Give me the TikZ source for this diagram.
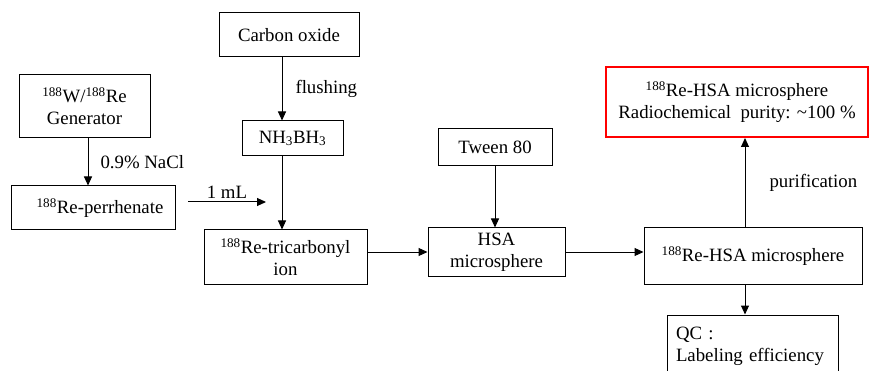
\documentclass[tikz,border=0pt]{standalone}
\usepackage{fontspec}
\setmainfont{Liberation Serif}
\newfontfamily\tnrfont{Liberation Serif}
\usetikzlibrary{positioning,arrows.meta}

\begin{document}
\begin{tikzpicture}[x=1pt,y=-1pt,
        box/.style={draw, line width=1pt, inner sep=2pt, align=center, font=\tnrfont\fontsize{18.8}{22}\selectfont},
        lbl/.style={inner sep=0pt, font=\tnrfont\fontsize{18.8}{22}\selectfont},
        flow/.style={-{Triangle[length=9pt,width=8pt]}, line width=1pt}]

        \clip (0,0) rectangle (869,371);

        \node[box, minimum width=140pt, minimum height=44pt] (carbon) at (289,35) {Carbon oxide};
        \node[box, minimum width=101pt, minimum height=35pt] (nh3) at (292.5,138.5) {NH\textsubscript{3}BH\textsubscript{3}};
        \node[box, minimum width=131pt, minimum height=63pt] (gen) at (84.5,106.5) {\textsuperscript{188}W/\textsuperscript{188}Re\\Generator};
        \node[box, minimum width=164pt, minimum height=44pt] (perr) at (93,208) {\hspace*{14pt}\textsuperscript{188}Re-perrhenate};
        \node[box, minimum width=163pt, minimum height=54pt] (tri) at (285.5,257) {\textsuperscript{188}Re-tricarbonyl\\ion};
        \node[box, minimum width=114pt, minimum height=37pt] (tween) at (495,147.5) {Tween 80};
        \node[box, minimum width=137pt, minimum height=48pt] (hsa) at (496.5,252) {HSA\\microsphere};
        \node[box, minimum width=218pt, minimum height=56pt] (rehsa) at (753,256) {\textsuperscript{188}Re-HSA microsphere};
        \node[box, draw=red, line width=2pt, minimum width=262pt, minimum height=70pt] (final) at (737,102) {\textsuperscript{188}Re-HSA microsphere\\Radiochemical\ \ purity: \textasciitilde100 \%};
        \node[box, minimum height=63pt, inner xsep=9pt, text width=153pt, align=left] (qc) at (752.5,346.5) {QC :\\Labeling efficiency};

        \coordinate (cx) at (282,0);
        \coordinate (gx) at (88,0);
        \coordinate (rx) at (745,0);
        \coordinate (mla) at (188,202);
        \coordinate (mlb) at (266,202);

        \draw[flow] (carbon.south -| cx) -- node[lbl, right=13pt] {flushing} (nh3.north -| cx);
        \draw[flow] (nh3.south -| cx) -- (tri.north -| cx);
        \draw[flow] (gen.south -| gx) -- node[lbl, right=12pt] {0.9\% NaCl} (perr.north -| gx);
        \draw[flow] (mla) -- node[lbl, above=3pt] {1 mL} (mlb);
        \draw[flow] (tri.east |- hsa.west) -- (hsa.west);
        \draw[flow] (tween.south) -- (tween.south |- hsa.north);
        \draw[flow] (hsa.east) -- (hsa.east -| rehsa.west);
        \draw[flow] (rehsa.north -| rx) -- node[lbl, right=24pt] {purification} (final.south -| rx);
        \draw[flow] (rehsa.south -| rx) -- (qc.north -| rx);

\end{tikzpicture}
\end{document}
